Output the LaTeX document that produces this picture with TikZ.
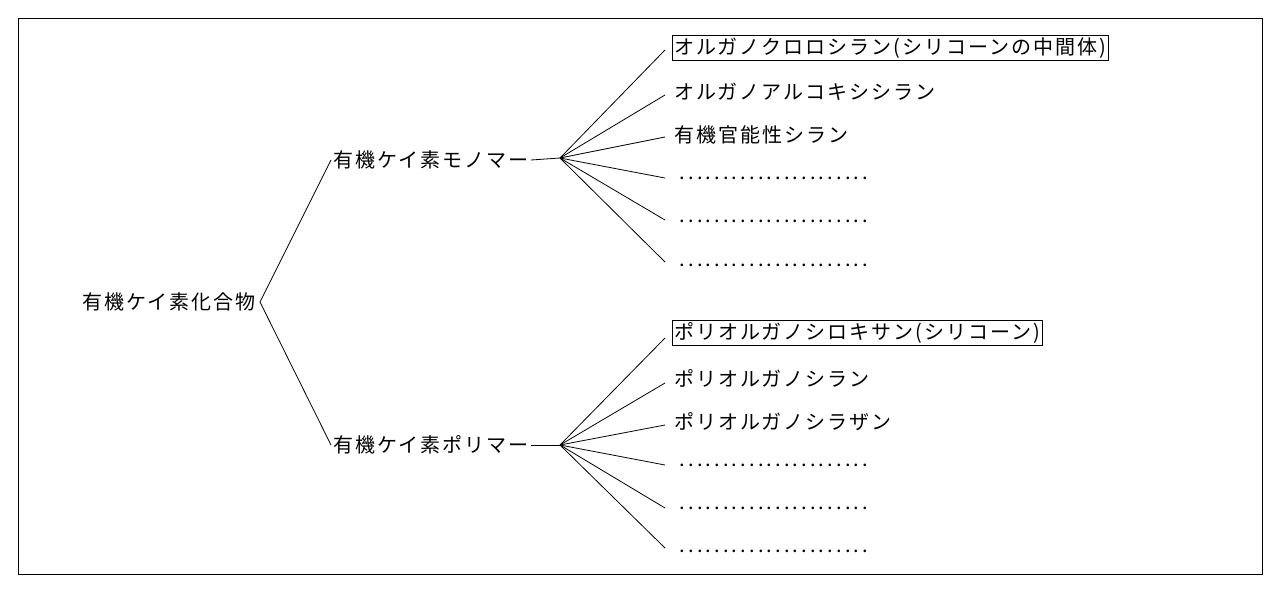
\documentclass[tikz,border=0pt]{standalone}
\usepackage{fontspec}
\setmainfont{Noto Sans CJK JP}
\usetikzlibrary{positioning}
\newcommand{\dotrow}{\makebox[192pt]{\leaders\hbox to 8.7pt{\hss.\hss}\hfill}}
\begin{document}
\begin{tikzpicture}[x=1pt, y=-1pt,
  term/.style={inner sep=2pt, font=\fontsize{20}{22}\selectfont\addfontfeature{LetterSpace=10}},
  leaf/.style={term, anchor=west},
  boxed/.style={leaf, draw, line width=0.8pt},
  branch/.style={line width=0.8pt}
]
\useasboundingbox (0,0) rectangle (1280,592);
\draw[line width=0.8pt] (18,18) rectangle (1262,574);

\node[term, anchor=east] (root) at (258,302) {有機ケイ素化合物};
\node[term, anchor=west] (mono) at (331,160) {有機ケイ素モノマー};
\node[term, anchor=west] (poly) at (331,445) {有機ケイ素ポリマー};
\coordinate (rootfork) at (260,302);
\coordinate (monofork) at (560,158);
\coordinate (polyfork) at (560,445);
\draw[branch] (mono.west) -- (rootfork) -- (poly.west);
\draw[branch] (mono.east) -- (monofork);
\draw[branch] (poly.east) -- (polyfork);

% monomers
\node[boxed] (m1) at (672,48) {オルガノクロロシラン(シリコーンの中間体)};
\node[leaf] (m2) at (672,92) {オルガノアルコキシシラン};
\node[leaf] (m3) at (672,135) {有機官能性シラン};
\node[leaf] (m4) at (676,178) {\dotrow};
\node[leaf] (m5) at (676,221) {\dotrow};
\node[leaf] (m6) at (676,265) {\dotrow};
\foreach \n/\y in {m1/50, m2/95, m3/137, m4/178, m5/220, m6/262}
  \draw[branch] (monofork) -- (665,\y);

% polymers
\node[boxed] (p1) at (672,333) {ポリオルガノシロキサン(シリコーン)};
\node[leaf] (p2) at (672,378) {ポリオルガノシラン};
\node[leaf] (p3) at (672,422) {ポリオルガノシラザン};
\node[leaf] (p4) at (676,465) {\dotrow};
\node[leaf] (p5) at (676,508) {\dotrow};
\node[leaf] (p6) at (676,551) {\dotrow};
\foreach \n/\y in {p1/338, p2/383, p3/425, p4/465, p5/508, p6/548}
  \draw[branch] (polyfork) -- (665,\y);
\end{tikzpicture}
\end{document}
